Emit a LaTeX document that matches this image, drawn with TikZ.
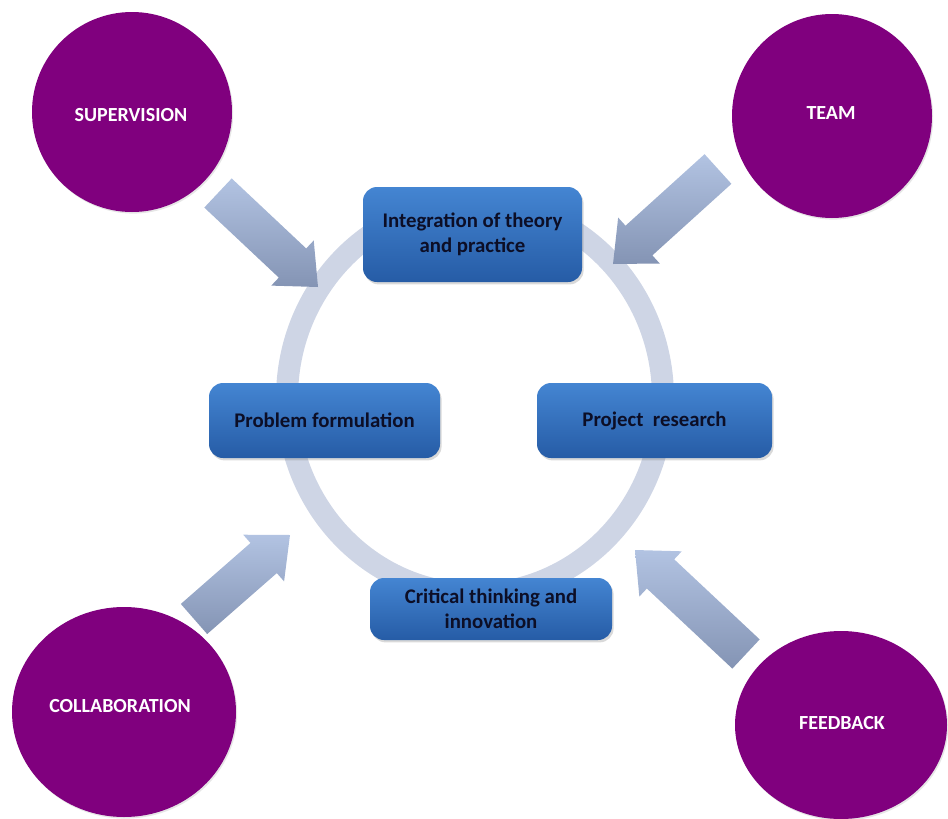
\documentclass[tikz,border=0pt]{standalone}
\usepackage{fontspec}
\setmainfont{Carlito}
\usetikzlibrary{calc,shapes.geometric,shadows}

\definecolor{hubpurple}{RGB}{128,0,126}
\definecolor{boxtop}{RGB}{68,133,210}
\definecolor{boxbot}{RGB}{38,92,166}
\definecolor{boxtext}{RGB}{12,14,38}
\definecolor{ringgray}{RGB}{206,213,229}
\definecolor{arrtop}{RGB}{178,195,226}
\definecolor{arrbot}{RGB}{132,148,180}

% block arrow from a tail coordinate to a tip coordinate
\newcommand{\blockarrow}[2]{%
 \coordinate (#1-base) at ($(#2)!17.5pt!(#1)$);
 \path[arrowfill] ($(#1)!10pt!90:(#2)$) -- ($(#1-base)!10pt!90:(#2)$)
  -- ($(#1-base)!15.5pt!90:(#2)$) -- (#2) -- ($(#1-base)!15.5pt!-90:(#2)$)
  -- ($(#1-base)!10pt!-90:(#2)$) -- ($(#1)!10pt!-90:(#2)$) -- cycle;
}

\begin{document}
\begin{tikzpicture}[x=0.5pt, y=-0.5pt,
 hub/.style={ellipse, inner sep=0pt, fill=hubpurple, text=white,
  font=\fontsize{10}{12}\selectfont\bfseries,
  drop shadow={opacity=0.2, shadow xshift=0.6pt, shadow yshift=-0.8pt}},
 stage/.style={rectangle, rounded corners=7pt, inner sep=0pt,
  top color=boxtop, bottom color=boxbot, text=boxtext, align=center,
  font=\fontsize{10.4}{12.5}\selectfont\bfseries,
  drop shadow={opacity=0.3, shadow xshift=0.8pt, shadow yshift=-1.2pt}},
 arrowfill/.style={top color=arrtop, bottom color=arrbot}]
 \useasboundingbox (0,0) rectangle (948,819);

 % the cycle ring
 \draw[ringgray, line width=11pt] (475,398) ellipse [x radius=188, y radius=196];

 % arrows from the four circles
 \coordinate (supT) at (218,193);  \coordinate (supP) at (318,287);
 \coordinate (teamT) at (718,169); \coordinate (teamP) at (613,264);
 \coordinate (colT) at (194,619);  \coordinate (colP) at (290,535);
 \coordinate (feedT) at (746,654); \coordinate (feedP) at (635,550);
 \blockarrow{supT}{supP}
 \blockarrow{teamT}{teamP}
 \blockarrow{colT}{colP}
 \blockarrow{feedT}{feedP}

 % stages on the ring
 \node[stage, minimum width=109.5pt, minimum height=47.5pt] (integ) at (472.5,234.5) {Integration of theory\\and practice};
 \node[stage, minimum width=115.5pt, minimum height=37.5pt] (prob) at (324.5,420.5) {Problem formulation};
 \node[stage, minimum width=117.5pt, minimum height=37.5pt] (proj) at (654.5,420.5) {Project\ \ research};
 \node[stage, minimum width=121pt, minimum height=31pt] (crit) at (491,609) {Critical thinking and\\innovation};

 % outer circles
 \node[hub, minimum width=100pt, minimum height=100pt] (sup) at (132,112) {};
 \node[hub, minimum width=100pt, minimum height=102pt] (team) at (832,116) {};
 \node[hub, minimum width=112pt, minimum height=105pt] (col) at (124,712) {};
 \node[hub, minimum width=106pt, minimum height=94pt] (feed) at (841,725) {};
 \node[text=white, font=\fontsize{10}{12}\selectfont\bfseries] (supL) at (131,115) {SUPERVISION};
 \node[text=white, font=\fontsize{10}{12}\selectfont\bfseries] (teamL) at (831,113) {TEAM};
 \node[text=white, font=\fontsize{10}{12}\selectfont\bfseries] (colL) at (120,706) {COLLABORATION};
 \node[text=white, font=\fontsize{10}{12}\selectfont\bfseries] (feedL) at (842,723) {FEEDBACK};
\end{tikzpicture}
\end{document}
